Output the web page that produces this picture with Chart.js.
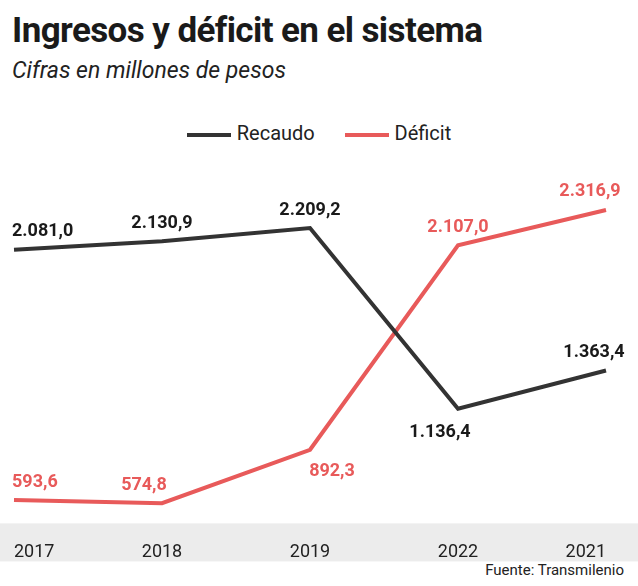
<!DOCTYPE html>
<html><head><meta charset="utf-8">
<script src="https://cdn.jsdelivr.net/npm/chart.js@4"></script>
<style>
body{margin:0;width:638px;height:586px;overflow:hidden;background:#fff;font-family:Roboto,sans-serif;position:relative}
#t{position:absolute;left:12px;top:10px;font-size:35px;font-weight:700;color:#1a1a1a;letter-spacing:-0.6px}
#s{position:absolute;left:12px;top:57px;font-size:23px;font-style:italic;color:#222}
#lg{position:absolute;top:121px;left:0;width:638px;text-align:center;font-size:20px;color:#222}
#lg span{display:inline-block;width:44px;height:4px;vertical-align:middle;margin:0 6px 0 0}
#src{position:absolute;right:14px;top:561px;font-size:15px;color:#222}
canvas{position:absolute;left:0;top:0}
</style></head><body>
<div id="t">Ingresos y déficit en el sistema</div>
<div id="s">Cifras en millones de pesos</div>
<div id="lg"><span style="background:#333"></span>Recaudo&nbsp;&nbsp;&nbsp;&nbsp;&nbsp;&nbsp;<span style="background:#e85a5a"></span>Déficit</div>
<div id="src">Fuente: Transmilenio</div>
<canvas id="c" width="638" height="586"></canvas>
<script>
const categories=["2017","2018","2019","2022","2021"];
const recaudo=[2081.0,2130.9,2209.2,1136.4,1363.4];
const deficit=[593.6,574.8,892.3,2107.0,2316.9];
const fmt=v=>v.toLocaleString('es-ES',{minimumFractionDigits:1,maximumFractionDigits:1,useGrouping:'always'});
const offs={0:[[0,-18],[0,-18],[0,-18],[-18,24],[-12,-18]],1:[[8,-18],[-18,-18],[22,22],[0,-18],[-16,-18]]};
const labels={id:'lbl',afterDatasetsDraw(ch){const c=ch.ctx;c.save();c.font='bold 18px Roboto';c.textBaseline='middle';
ch.data.datasets.forEach((ds,i)=>{ch.getDatasetMeta(i).data.forEach((p,j)=>{const o=offs[i][j];let x=p.x+o[0];
c.fillStyle=i?'#e85a5a':'#1a1a1a';let tx=fmt(ds.data[j]);let w=c.measureText(tx).width;
x=Math.max(12+w/2,Math.min(ch.width-6-w/2,x));c.textAlign='center';c.fillText(tx,x,p.y+o[1]);});});c.restore();}};
const band={id:'band',beforeDraw(ch){const c=ch.ctx;c.save();c.fillStyle='#ececec';c.fillRect(0,ch.chartArea.bottom,ch.width,38);c.restore();}};
new Chart(document.getElementById('c'),{type:'line',
data:{labels:categories,datasets:[
{data:recaudo,borderColor:'#333',borderWidth:4,pointRadius:0,tension:0},
{data:deficit,borderColor:'#e85a5a',borderWidth:4,pointRadius:0,tension:0}]},
options:{responsive:false,animation:false,events:[],
layout:{padding:{top:200,left:14,right:32,bottom:13}},
plugins:{legend:{display:false},tooltip:{enabled:false}},
scales:{x:{offset:false,grid:{display:false},border:{display:false},
ticks:{padding:10,color:'#222',font:{size:18,family:'Roboto'},align:'inner'}},
y:{display:false,min:455,max:2376}}},
plugins:[band,labels]});
</script></body></html>
